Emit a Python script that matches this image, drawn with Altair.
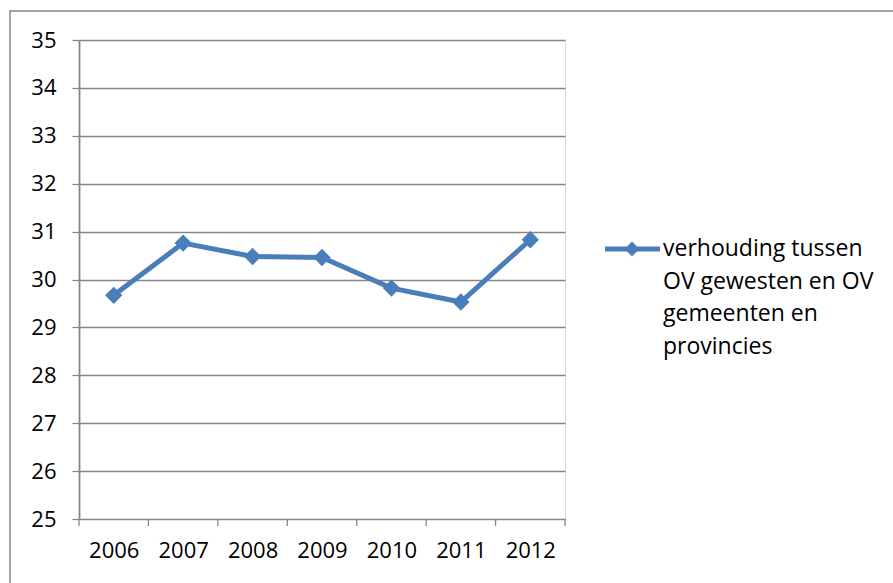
import altair as alt
import pandas as pd

# Yearly ratio between OV regions and OV municipalities/provinces
years = [2006, 2007, 2008, 2009, 2010, 2011, 2012]
ratio = [29.67, 30.76, 30.48, 30.46, 29.82, 29.53, 30.83]
series_name = "verhouding tussen\nOV gewesten en OV\ngemeenten en\nprovincies"
y_ticks = list(range(25, 36))
x_bounds = [y - 0.5 for y in years] + [years[-1] + 0.5]

BLUE = "#4A7EBB"
GREY = "#868686"
FONT = "Open Sans"
FS = 22
FS_LEG = 23

W, H = 486, 479

df = pd.DataFrame({"jaar": years, "waarde": ratio})
bounds = pd.DataFrame({"b": x_bounds})

x_scale = alt.Scale(domain=[years[0] - 0.5, years[-1] + 0.5], nice=False, zero=False)
y_scale = alt.Scale(domain=[25, 35], nice=False, zero=False)

base = alt.Chart(df)

line = base.mark_line(color=BLUE, strokeWidth=5).encode(
    x=alt.X("jaar:Q", scale=x_scale,
            axis=alt.Axis(values=years, format="d", title=None, ticks=False,
                          domain=False, grid=False, labelPadding=21,
                          labelFontSize=FS, labelFont=FONT, labelColor="#000000")),
    y=alt.Y("waarde:Q", scale=y_scale,
            axis=alt.Axis(values=y_ticks, title=None, grid=True, gridColor=GREY,
                          gridWidth=1.3, tickColor=GREY, tickSize=7, tickWidth=1.3,
                          domainColor=GREY, domainWidth=1.8, labelPadding=16,
                          labelFontSize=FS, labelFont=FONT, labelColor="#000000")),
)

points = base.mark_point(shape="diamond", filled=True, size=300, color=BLUE, opacity=1).encode(
    x=alt.X("jaar:Q", scale=x_scale),
    y=alt.Y("waarde:Q", scale=y_scale),
)

# category boundary ticks under the x axis
ticks = alt.Chart(bounds).mark_rule(color=GREY, strokeWidth=1.3).encode(
    x=alt.X("b:Q", scale=x_scale),
    y=alt.value(H),
    y2=alt.value(H + 7),
)

# legend: line with marker and wrapped label
leg_line = alt.Chart(df.head(1)).mark_rule(color=BLUE, strokeWidth=5).encode(
    x=alt.value(526), x2=alt.value(581), y=alt.value(209)
)
leg_pt = alt.Chart(df.head(1)).mark_point(shape="diamond", filled=True, size=220,
                                          color=BLUE, opacity=1).encode(
    x=alt.value(553), y=alt.value(209)
)
leg_text = alt.Chart(df.head(1)).mark_text(
    text=series_name.split("\n"), align="left", baseline="middle", fontSize=FS_LEG,
    font=FONT, lineHeight=32.7, color="#000000"
).encode(x=alt.value(584), y=alt.value(209))

# chart outer frame (right and bottom edges run past the canvas)
frame = alt.Chart(df.head(1)).mark_rect(fill=None, stroke=GREY, strokeWidth=1.5).encode(
    x=alt.value(-69), x2=alt.value(830), y=alt.value(-29), y2=alt.value(560)
)

chart = alt.layer(frame, line, points, ticks, leg_line, leg_pt, leg_text).properties(
    width=W, height=H,
    autosize=alt.AutoSizeParams(type="none"),
    padding={"left": 79, "top": 40, "right": 893 - 79 - W, "bottom": 583 - 40 - H},
).configure_view(stroke=None).configure(background="white")

chart.save("out.html", embed_options={"renderer": "svg", "actions": False})
